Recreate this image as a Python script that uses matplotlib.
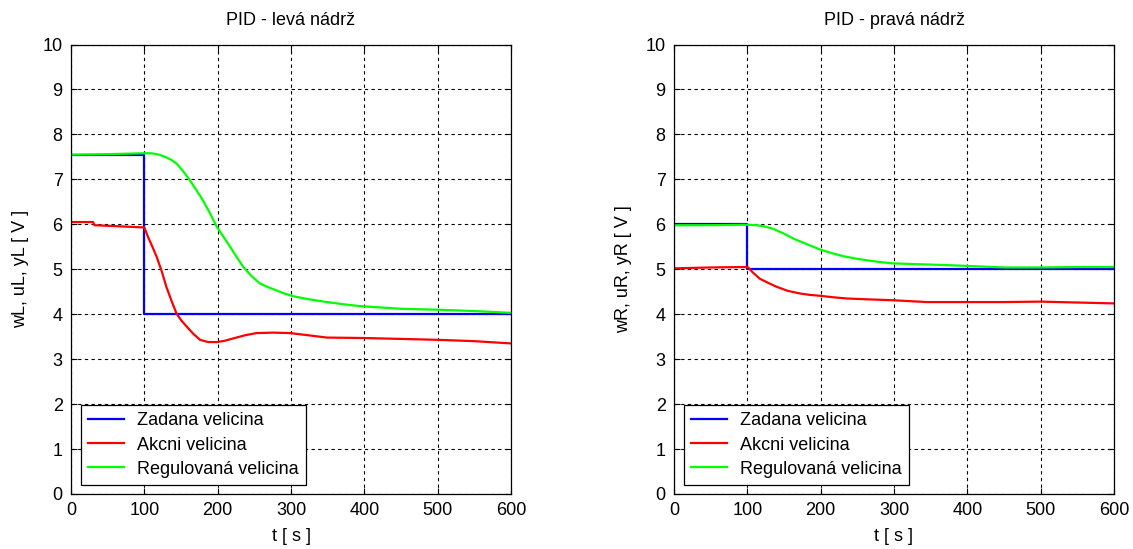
import numpy as np
import matplotlib
matplotlib.use("Agg")
import matplotlib.pyplot as plt

plt.rcParams['font.family'] = ['Liberation Sans', 'DejaVu Sans']

# left tank
tL_w = [0, 100, 100, 600]
wL = [7.55, 7.55, 4.0, 4.0]
tL_u = [0, 30, 32, 100, 105, 111, 117, 124, 130, 137, 144, 151, 158, 167, 176, 187, 199, 210, 221, 237, 253, 276, 299, 324,
        349, 400, 450, 500, 550, 600]
uL = [6.05, 6.05, 5.98, 5.93, 5.72, 5.50, 5.27, 4.94, 4.61, 4.30, 4.01, 3.85, 3.72, 3.56, 3.43, 3.38, 3.38, 3.41, 3.46,
      3.53, 3.58, 3.59, 3.58, 3.53, 3.48, 3.47, 3.45, 3.43, 3.40, 3.35]
tL_y = [0, 50, 98, 110, 120, 130, 137, 144, 153, 162, 171, 180, 190, 199, 208, 217, 226, 235, 246, 258, 269, 280, 291, 303,
        325, 349, 372, 394, 450, 500, 550, 600]
yL = [7.55, 7.56, 7.58, 7.58, 7.55, 7.49, 7.43, 7.35, 7.18, 6.98, 6.76, 6.53, 6.23, 5.94, 5.72, 5.50, 5.27, 5.05, 4.85,
      4.68, 4.60, 4.53, 4.46, 4.40, 4.33, 4.27, 4.22, 4.18, 4.12, 4.10, 4.07, 4.03]

# right tank
tR_w = [0, 100, 100, 600]
wR = [6.0, 6.0, 5.0, 5.0]
tR_u = [0, 50, 100, 101, 108, 117, 128, 140, 155, 172, 185, 199, 215, 235, 265, 299, 345, 400, 450, 500, 550, 600]
uR = [5.02, 5.04, 5.05, 5.04, 4.92, 4.79, 4.70, 4.61, 4.52, 4.46, 4.43, 4.41, 4.38, 4.35, 4.33, 4.31, 4.27, 4.27, 4.27,
      4.28, 4.26, 4.24]
tR_y = [0, 50, 100, 113, 124, 135, 149, 163, 181, 199, 215, 231, 247, 263, 281, 299, 337, 376, 450, 500, 550, 600]
yR = [5.98, 5.98, 5.99, 5.98, 5.95, 5.90, 5.80, 5.68, 5.56, 5.44, 5.36, 5.29, 5.24, 5.20, 5.16, 5.13, 5.11, 5.09, 5.04,
      5.04, 5.05, 5.05]

legend_labels = ['Zadana velicina', 'Akcni velicina', 'Regulovaná velicina']
titles = ['PID - levá nádrž', 'PID - pravá nádrž']
ylabels = ['wL, uL, yL [ V ]', 'wR, uR, yR [ V ]']

W, H = 1133, 549
fig = plt.figure(figsize=(W / 100, H / 100), dpi=100)
ax1 = fig.add_axes([71 / W, 1 - 494 / H, 440 / W, 449.5 / H])
ax2 = fig.add_axes([674 / W, 1 - 494 / H, 440 / W, 449.5 / H])

data = [(tL_w, wL, tL_u, uL, tL_y, yL), (tR_w, wR, tR_u, uR, tR_y, yR)]
for k, ax in enumerate([ax1, ax2]):
    tw, w, tu, u, ty, y = data[k]
    ax.plot(tw, w, color='#0000ff', lw=1.6, label=legend_labels[0])
    ax.plot(tu, u, color='#ff0000', lw=1.6, label=legend_labels[1])
    ax.plot(ty, y, color='#00ff00', lw=1.6, label=legend_labels[2])
    ax.set_xlim(0, 600)
    ax.set_ylim(0, 10)
    ax.set_xticks(range(0, 601, 100))
    ax.set_yticks(range(0, 11))
    ax.grid(True, color='black', linestyle=(0, (3, 3)), lw=0.8)
    ax.tick_params(direction='in', length=4, labelsize=13, top=True, right=True,
                   labeltop=False, labelright=False, pad=6)
    for s in ax.spines.values():
        s.set_linewidth(0.9)
    ax.set_title(titles[k], fontsize=13, pad=14)
    ax.set_xlabel('t [ s ]', fontsize=13, labelpad=6)
    ax.set_ylabel(ylabels[k], fontsize=13, labelpad=10)
    leg = ax.legend(loc='lower left', bbox_to_anchor=(0.023, 0.02), fontsize=13,
                    fancybox=False, edgecolor='black', framealpha=1,
                    handlelength=2.0, handletextpad=0.7, borderaxespad=0,
                    labelspacing=0.4, borderpad=0.4)
    leg.get_frame().set_linewidth(0.9)

fig.savefig('out.png', dpi=100)
